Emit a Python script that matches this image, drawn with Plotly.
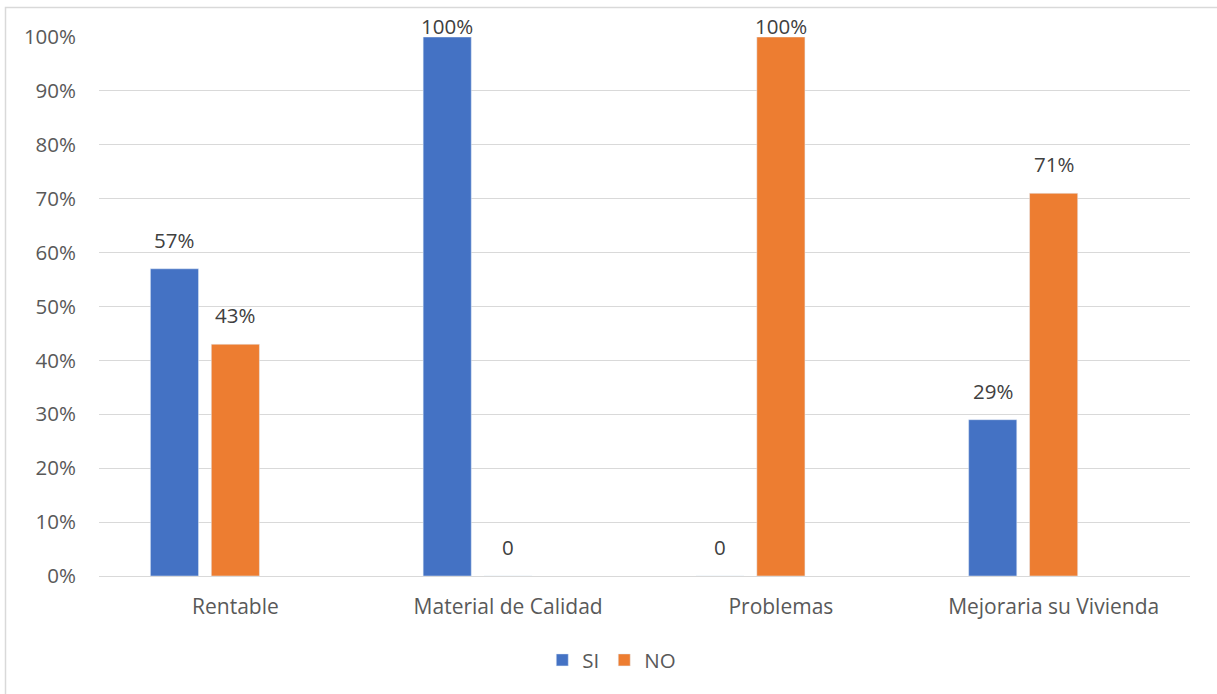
import plotly.graph_objects as go

categories = ["Rentable", "Material de Calidad", "Problemas", "Mejoraria su Vivienda"]
si_values = [0.57, 1.00, 0.0, 0.29]
no_values = [0.43, 0.0, 1.00, 0.71]
tick_vals = [0, 0.1, 0.2, 0.3, 0.4, 0.5, 0.6, 0.7, 0.8, 0.9, 1.0]
tick_text = ["0%", "10%", "20%", "30%", "40%", "50%", "60%", "70%", "80%", "90%", "100%"]


def label(v):
    return "0" if v == 0 else f"{round(v * 100)}%"


FONT = "Open Sans"
TXT = "#595959"
FS = 20.5

W, H = 1217, 694
L, R, T, B = 99, 27, 37, 118
pw, ph = W - L - R, H - T - B
BARGAP = 0.33
slot = pw / len(categories) * (1 - BARGAP) / 3

fig = go.Figure()
fig.add_trace(go.Bar(name="SI", x=categories, y=si_values, marker_color="#4472C4"))
fig.add_trace(go.Bar(name="NO", x=categories, y=no_values, marker_color="#ED7D31"))
fig.add_trace(go.Bar(name="", x=categories, y=[None] * len(categories), showlegend=False,
                     hoverinfo="skip", marker_color="rgba(0,0,0,0)"))

annotations = []
for values, off in ((si_values, -slot), (no_values, 0.0)):
    for c, v in zip(categories, values):
        bar_top = T + (1 - v) * ph
        baseline = max(bar_top - 20, 35)
        yshift = bar_top - baseline - 7
        annotations.append(dict(x=c, y=v, xref="x", yref="y", text=label(v), showarrow=False,
                                xshift=off, yshift=yshift, yanchor="bottom",
                                font=dict(size=FS, color="#404040", family=FONT)))

fig.update_layout(
    width=W, height=H,
    margin=dict(l=L, r=R, t=T, b=B),
    paper_bgcolor="white", plot_bgcolor="white",
    barmode="group", bargap=BARGAP, bargroupgap=0.21,
    font=dict(family=FONT, size=FS, color=TXT),
    showlegend=True,
    legend=dict(orientation="h", x=0.47, xanchor="center", y=-0.156, yanchor="middle",
                font=dict(size=FS, color=TXT, family=FONT), itemwidth=30,
                traceorder="normal"),
    xaxis=dict(showgrid=False, zeroline=False, showline=False, ticks="",
               tickfont=dict(size=21, color=TXT), ticklabelstandoff=16),
    yaxis=dict(range=[0, 1], tickvals=tick_vals, ticktext=tick_text, showgrid=True,
               gridcolor="#D9D9D9", gridwidth=1, zeroline=True, zerolinecolor="#D9D9D9",
               zerolinewidth=1, showline=False, ticks="", ticklabelstandoff=22,
               tickfont=dict(size=FS, color=TXT)),
    annotations=annotations,
    shapes=[dict(type="rect", xref="paper", yref="paper",
                 x0=(5.5 - L) / pw, x1=(1280 - L) / pw,
                 y0=(H - 760 - B) / ph, y1=(H - 7.5 - B) / ph,
                 line=dict(color="#D9D9D9", width=1.5), fillcolor="rgba(0,0,0,0)",
                 layer="below")],
)

fig.write_html("out.html")
